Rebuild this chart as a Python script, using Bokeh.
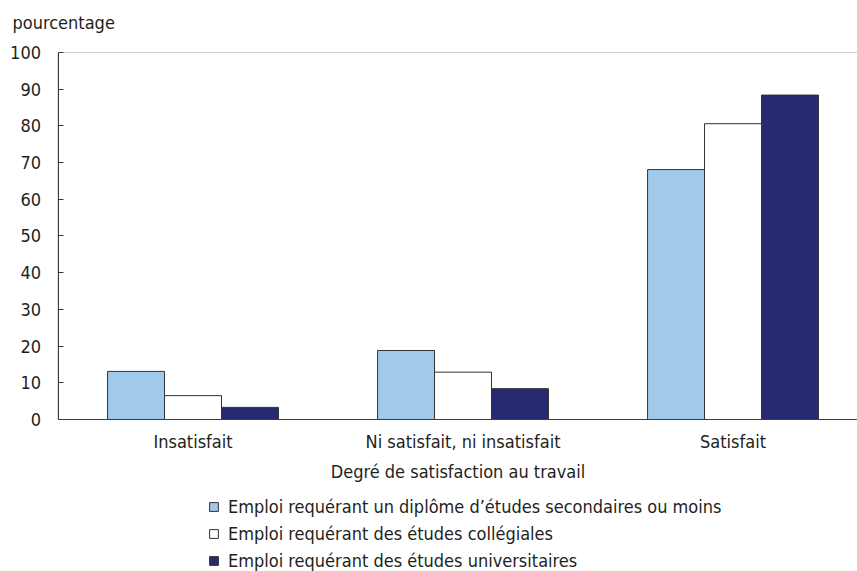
from bokeh.plotting import figure
from bokeh.models import (Range1d, FixedTicker, Legend, LegendItem, Label,
                          BoxAnnotation, ColumnDataSource)
from bokeh.embed import file_html
from bokeh.resources import INLINE

# ---- data ----
categories = ["Insatisfait", "Ni satisfait, ni insatisfait", "Satisfait"]
secondaire = [13.1, 18.8, 68.1]
collegial = [6.5, 12.9, 80.6]
universitaire = [3.3, 8.4, 88.4]
series_labels = [
    "Emploi requérant un diplôme d’études secondaires ou moins",
    "Emploi requérant des études collégiales",
    "Emploi requérant des études universitaires",
]
y_ticks = list(range(0, 101, 10))

FONT = "DejaVu Sans Condensed"
FS = "18px"
TXT = "#231f20"
colors = ["#a1c9ea", "#ffffff", "#272a6f"]
bar_w = 0.211

W, H = 857, 571
p = figure(width=W, height=H, output_backend="svg", toolbar_location=None,
           x_range=Range1d(-0.213, 2.961), y_range=Range1d(-41.42, 114.17),
           min_border=0)
p.outline_line_color = None
p.xgrid.visible = False
p.ygrid.visible = False
p.background_fill_color = "white"
p.border_fill_color = "white"

items = []
for k, (vals, col, lab) in enumerate(zip([secondaire, collegial, universitaire], colors, series_labels)):
    xs = [i + 0.5 + (k - 1) * bar_w for i in range(len(categories))]
    src = ColumnDataSource(dict(x=xs, top=vals))
    r = p.vbar(x="x", top="top", bottom=0, width=bar_w, source=src,
               fill_color=col, line_color="#333333", line_width=1)
    items.append(LegendItem(label=lab, renderers=[r]))

# plot-area frame (top line)
p.add_layout(BoxAnnotation(left=0, right=3.2, bottom=0, top=100, fill_alpha=0,
                           line_color="#555555", line_width=1.2))

# y axis
ya = p.yaxis[0]
ya.fixed_location = 0
ya.bounds = (0, 100)
ya.ticker = FixedTicker(ticks=y_ticks)
ya.major_tick_in = 5
ya.major_tick_out = 0
ya.minor_tick_line_color = None
ya.axis_line_color = "#333333"
ya.major_tick_line_color = "#333333"
ya.major_label_text_font = FONT
ya.major_label_text_font_size = FS
ya.major_label_text_color = TXT
ya.major_label_standoff = 17

# x axis
xa = p.xaxis[0]
xa.fixed_location = 0
xa.bounds = (0, 3)
xa.ticker = FixedTicker(ticks=[i + 0.5 for i in range(len(categories))])
xa.major_label_overrides = {i + 0.5: c for i, c in enumerate(categories)}
xa.major_tick_in = 0
xa.major_tick_out = 0
xa.minor_tick_line_color = None
xa.axis_line_color = "#333333"
xa.major_label_text_font = FONT
xa.major_label_text_font_size = FS
xa.major_label_text_color = TXT
xa.major_label_standoff = 12
xa.axis_label = "Degré de satisfaction au travail"
xa.axis_label_text_font = FONT
xa.axis_label_text_font_size = FS
xa.axis_label_text_font_style = "normal"
xa.axis_label_text_color = TXT
xa.axis_label_standoff = 5

legend = Legend(items=items, location=(208, 0), orientation="vertical",
                label_text_font=FONT, label_text_font_size=FS,
                label_text_color=TXT, glyph_width=11, glyph_height=11,
                label_height=22, spacing=5, padding=0, margin=0,
                border_line_color=None, background_fill_alpha=0,
                label_standoff=9)
p.add_layout(legend, "center")

p.add_layout(Label(x=12, y=H - 22, x_units="screen", y_units="screen",
                   text="pourcentage", text_font=FONT, text_font_size=FS,
                   text_color=TXT, text_baseline="middle", text_align="left"))

open("out.html", "w").write(file_html(p, INLINE))
